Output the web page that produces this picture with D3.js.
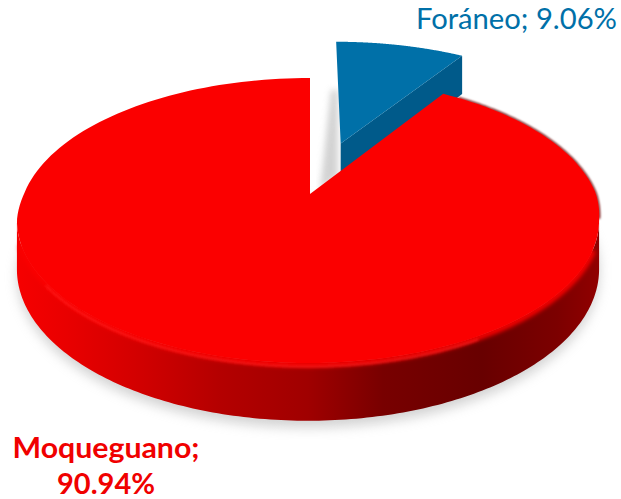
<!DOCTYPE html>
<html><head><meta charset="utf-8">
<script src="https://cdn.jsdelivr.net/npm/d3@7/dist/d3.min.js"></script>
<style>html,body{margin:0;padding:0;background:#fff}svg{display:block}</style>
</head><body><svg id="c" width="621" height="499"></svg>
<script>
const categories = ["Foráneo", "Moqueguano"];
const values = [9.06, 90.94];
const percentLabels = ["9.06%", "90.94%"];
const topColors = ["#0070a8", "#fb0000"];
const sideColors = ["#005a8a", "#a00000"];
const labelColors = ["#0070a8", "#f00000"];

const svg = d3.select("#c");
const defs = svg.append("defs");
[["b1",1],["b2",2.2],["b3",3],["b6",6]].forEach(([id,s])=>{
  defs.append("filter").attr("id",id).attr("x","-20%").attr("y","-20%").attr("width","140%").attr("height","140%")
    .append("feGaussianBlur").attr("stdDeviation",s);
});
const wallStops = [[0,"#f60000"],[0.08,"#ea0000"],[0.2,"#d40000"],[0.35,"#b40000"],[0.5,"#a00000"],[0.63,"#780000"],[0.8,"#680000"],[0.93,"#7c0000"],[1,"#900000"]];
const grad = defs.append("linearGradient").attr("id","wall").attr("gradientUnits","userSpaceOnUse")
  .attr("x1",17).attr("x2",598).attr("y1",0).attr("y2",0);
wallStops.forEach(([o,c])=>grad.append("stop").attr("offset",o).attr("stop-color",c));

// perspective projection of the pie's ground plane
const cx = 308, apexY = 194, R = 286, tilt = 0.481, k = 0.186, depth = 47;
function project(u, v, z) {
  const s = 1 / (1 - k * v);
  const lean = 2 * Math.max(0, Math.min(1, (k - v) / k));
  return [cx + lean + R * u * s, apexY + R * tilt * v * s + depth * z * s];
}
const arcs = d3.pie().sort(null).value(d => d)(values);
const explode = [0.41, 0];
const line = d3.line();
function offsetOf(i) {
  const m = (arcs[i].startAngle + arcs[i].endAngle) / 2;
  return [Math.sin(m) * explode[i], -Math.cos(m) * explode[i]];
}
function rim(i, a, z) {
  const o = offsetOf(i);
  return project(o[0] + Math.sin(a), o[1] - Math.cos(a), z);
}
function apex(i, z) { const o = offsetOf(i); return project(o[0], o[1], z); }
function rimPts(i, a0, a1, z) {
  return d3.range(0, 181).map(j => rim(i, a0 + (a1 - a0) * j / 180, z));
}
const deg = Math.PI / 180;
const red = arcs[1], blue = arcs[0];
const redFace = [apex(1,0), ...rimPts(1, red.startAngle, red.endAngle, 0)];
const wallPts = [...rimPts(1, 100.7*deg, 259.3*deg, 0), ...rimPts(1, 100.7*deg, 259.3*deg, 1).reverse()];

// soft ground shadow
svg.append("path").attr("d", line(rimPts(1, 70*deg, 290*deg, 1.12))+"Z")
  .attr("fill","#a8a8a8").attr("opacity",0.5).attr("filter","url(#b6)");
// shadow cast by blue wedge in the gap
svg.append("path").attr("d", line([[331,90],[338,90],[338,176],[320,190]])+"Z")
  .attr("fill","#b5b5b5").attr("opacity",0.6).attr("filter","url(#b3)");

// blue wedge
const bFace = [apex(0,0), ...rimPts(0, blue.startAngle, blue.endAngle, 0)];
const bSide = [rim(0, blue.endAngle, 0), rim(0, blue.endAngle, 1), apex(0,1), apex(0,0)];
svg.append("path").attr("d", line(bSide)+"Z").attr("fill", sideColors[0]);
svg.append("path").attr("d", line(bFace)+"Z").attr("fill", topColors[0]);

// red slice
svg.append("path").attr("d", line(wallPts)+"Z").attr("fill","url(#wall)");
// dark back-right edge
svg.append("path").attr("d", line(rimPts(1, red.startAngle+4*deg, 100*deg, 0))).attr("fill","none")
  .attr("stroke","#6a0000").attr("stroke-width",2).attr("filter","url(#b1)");
svg.append("path").attr("d", line(redFace)+"Z").attr("fill", topColors[1]);
// soft bevel between face and wall
svg.append("path").attr("d", line(rimPts(1, 112*deg, 250*deg, 0.02))).attr("fill","none")
  .attr("stroke","#fb0000").attr("stroke-width",6).attr("filter","url(#b2)");
svg.append("path").attr("d", line(rimPts(1, 150*deg, 235*deg, 0.06))).attr("fill","none")
  .attr("stroke","#ff2424").attr("stroke-width",2.5).attr("opacity",0.6).attr("filter","url(#b1)");

// labels
const font = "Lato, 'Open Sans', sans-serif";
svg.append("text").attr("x",617).attr("y",29).attr("text-anchor","end")
  .attr("font-family",font).attr("font-size",29.2).attr("fill",labelColors[0])
  .text(categories[0]+"; "+percentLabels[0]);
const t = svg.append("text").attr("text-anchor","middle").attr("font-family",font)
  .attr("font-weight",700).attr("font-size",29).attr("fill",labelColors[1]);
t.append("tspan").attr("x",106).attr("y",458).attr("textLength",187).attr("lengthAdjust","spacingAndGlyphs").text(categories[1]+";");
t.append("tspan").attr("x",106).attr("y",494).text(percentLabels[1]);
</script></body></html>
